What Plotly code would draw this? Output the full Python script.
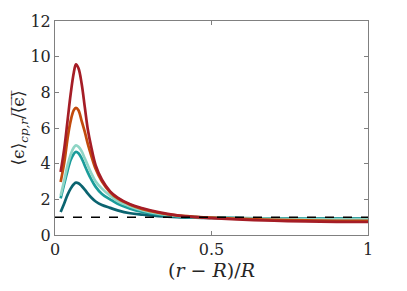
import plotly.graph_objects as go

x = [0.018, 0.03, 0.04, 0.05, 0.06, 0.067, 0.075, 0.085, 0.095, 0.105, 0.115,
     0.13, 0.15, 0.176, 0.2, 0.24, 0.28, 0.33, 0.39, 0.45, 0.5, 0.6, 0.7, 0.8, 0.9, 1.0]

red = [3.53, 4.9, 6.4, 7.9, 9.1, 9.57, 9.35, 8.5, 7.2, 5.9, 5.0,
       3.9, 3.1, 2.45, 2.1, 1.72, 1.5, 1.28, 1.1, 1.0, 0.95, 0.86, 0.8, 0.76, 0.74, 0.73]
orange = [2.97, 4.1, 5.4, 6.4, 7.0, 7.13, 7.0, 6.4, 5.8, 5.1, 4.5,
          3.7, 3.0, 2.4, 2.05, 1.7, 1.45, 1.25, 1.1, 1.02, 0.97, 0.9, 0.85, 0.82, 0.8, 0.8]
light_teal = [2.2, 3.1, 3.9, 4.5, 4.9, 5.03, 4.95, 4.7, 4.3, 3.9, 3.5,
              3.0, 2.6, 2.2, 1.9, 1.6, 1.38, 1.2, 1.07, 1.0, 0.97, 0.93, 0.9, 0.89, 0.88, 0.88]
teal = [2.05, 2.9, 3.6, 4.2, 4.55, 4.66, 4.58, 4.3, 3.9, 3.5, 3.15,
        2.7, 2.3, 2.0, 1.75, 1.48, 1.3, 1.15, 1.05, 1.0, 0.98, 0.95, 0.93, 0.92, 0.92, 0.92]
dark_teal = [1.29, 1.8, 2.25, 2.6, 2.85, 2.94, 2.9, 2.75, 2.55, 2.32, 2.12,
             1.88, 1.68, 1.52, 1.38, 1.22, 1.14, 1.06, 1.0, 0.97, 0.96, 0.94, 0.92, 0.91, 0.9, 0.9]

ref_x = [0, 1]
ref_y = [1, 1]

series = [
    (dark_teal, "#0b6470"),
    (teal, "#1a9c9a"),
    (light_teal, "#8fd5c5"),
    (orange, "#c24a0c"),
    (red, "#a51d26"),
]

FONT = "DejaVu Serif"

fig = go.Figure()
for ys, c in series:
    fig.add_trace(go.Scatter(x=x, y=ys, mode="lines", line=dict(color=c, width=2.7, shape="spline"),
                             showlegend=False))
fig.add_trace(go.Scatter(x=ref_x, y=ref_y, mode="lines", line=dict(color="black", width=1.5, dash="dash"),
                         showlegend=False))

axis_common = dict(showgrid=False, zeroline=False, showline=True, linecolor="#808080", linewidth=1,
                   mirror="ticks", ticks="inside", ticklen=4, tickcolor="#808080", automargin=False,
                   tickfont=dict(family=FONT, size=16, color="#262626"))

fig.update_layout(
    width=399, height=283,
    margin=dict(l=47, r=39, t=13, b=56),
    font=dict(family=FONT),
    plot_bgcolor="white", paper_bgcolor="white",
    xaxis=dict(range=[0, 1], tickvals=[0, 0.5, 1], ticktext=["0", "0.5", "1"],
               title=dict(text="(<i>r</i> − <i>R</i>)/<i>R</i>", standoff=4,
                          font=dict(family=FONT, size=19, color="#262626")),
               **axis_common),
    yaxis=dict(range=[0, 12], tickvals=[0, 2, 4, 6, 8, 10, 12],
               title=dict(text="⟨ϵ⟩<sub><i>cp,r</i></sub>/⟨̅ϵ̅⟩̅", standoff=8,
                          font=dict(family=FONT, size=17, color="#262626")),
               **axis_common),
)

fig.write_html("out.html")
